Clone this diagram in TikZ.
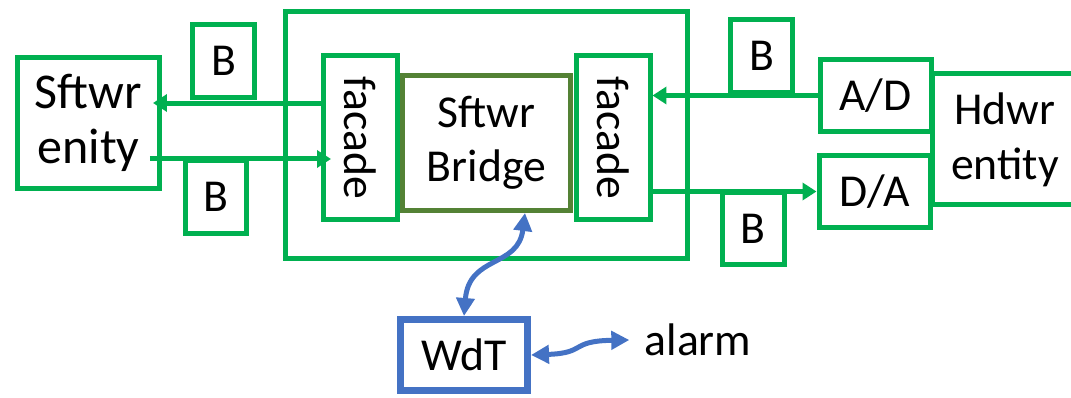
\documentclass[tikz,border=0pt]{standalone}
\usepackage{fontspec}
\setmainfont{Carlito}
\usepackage{tikz}
\usetikzlibrary{arrows.meta, positioning}
\definecolor{boxgreen}{HTML}{00B050}
\definecolor{bridgegreen}{HTML}{548235}
\definecolor{dogblue}{HTML}{4472C4}
\tikzset{
    entity/.style={rectangle, draw=boxgreen, line width=0.1cm, minimum width=2.84cm, minimum height=2.64cm, align=center, inner sep=0pt, font=\fontsize{28.5}{31}\selectfont},
    buffer/.style={rectangle, draw=boxgreen, line width=0.1cm, minimum width=1.24cm, minimum height=1.46cm, inner sep=0pt},
    shell/.style={rectangle, draw=boxgreen, line width=0.1cm, minimum width=8.04cm, minimum height=4.94cm},
    facadeBox/.style={rectangle, draw=boxgreen, line width=0.1cm, minimum width=1.48cm, minimum height=3.28cm, inner sep=0pt},
    bridge/.style={rectangle, draw=bridgegreen, line width=0.1cm, minimum width=3.38cm, minimum height=2.7cm, align=center, inner sep=0pt},
    conv/.style={rectangle, draw=boxgreen, line width=0.1cm, minimum width=2.22cm, minimum height=1.46cm, inner sep=0pt},
    watchdog/.style={rectangle, draw=dogblue, line width=0.14cm, minimum width=2.54cm, minimum height=1.42cm, inner sep=0pt},
    plainLabel/.style={align=center, inner sep=0.3cm},
    line/.style={draw=boxgreen, line width=0.1cm, -{Triangle[length=0.28cm, width=0.34cm]}},
    bline/.style={draw=dogblue, line width=0.1cm, {Triangle[length=0.36cm, width=0.36cm]}-{Triangle[length=0.36cm, width=0.36cm]}}
}

\begin{document}
\begin{tikzpicture}[x=0.02cm, y=-0.02cm, font=\fontsize{26}{31}\selectfont]
    \useasboundingbox (0,0) rectangle (1071,398);

    % Software side
    \node [shell] (case) at (486.5,135) {};
    \node [entity] (sftwr) at (88.5,123) {Sftwr\\enity};
    \node [buffer] (bufL1) at (223.5,61) {B};
    \node [buffer] (bufL2) at (216,197) {B};

    % Bridge with its two facades
    \node [facadeBox] (facadeL) at (360.5,137.5) {\rotatebox{-90}{facade}};
    \node [facadeBox] (facadeR) at (613,137.5) {\rotatebox{-90}{facade}};
    \node [bridge] (bridge) at (486.5,143) {Sftwr\\Bridge};

    % Hardware side
    \node [buffer] (bufR1) at (761.5,56) {B};
    \node [buffer] (bufR2) at (753,228.5) {B};
    \node [plainLabel] (hdwr) at (1005,140) {Hdwr\\entity};
    \draw [boxgreen, line width=0.1cm] (1075,73.5) -| (932.5,204.5) -- (1075,204.5);
    \node [conv] (ad) at (875.5,95.5) {A/D};
    \node [conv] (da) at (874.5,191.5) {D/A};

    % Watchdog
    \node [watchdog] (wdt) at (464,355) {WdT};
    \node [plainLabel] (alarm) at (698,340) {alarm};

    % Paths
    \draw [line, shorten <=-0.08cm, shorten >=-0.18cm] ([yshift=0.69cm]facadeL.west) -- ([yshift=0.69cm]facadeL.west -| sftwr.east);
    \draw [line, shorten <=-0.24cm, shorten >=-0.2cm] ([yshift=-0.43cm]facadeL.west -| sftwr.east) -- ([yshift=-0.43cm]facadeL.west);
    \draw [line] (ad.west) -- (ad.west -| facadeR.east);
    \draw [line] (facadeR.east |- da.west) -- (da.west);

    \draw [bline] ([xshift=0.77cm]bridge.south) .. controls +(-0.14cm,-1.1cm) and +(0.1cm,1.22cm) .. (wdt.north);
    \draw [bline] (wdt.east) .. controls +(1.12cm,0.04cm) and +(-1.2cm,-0.02cm) .. (alarm.west);
\end{tikzpicture}
\end{document}
